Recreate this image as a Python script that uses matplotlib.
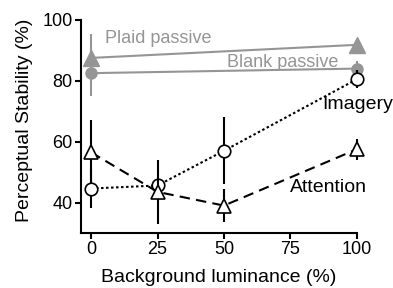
import numpy as np
import matplotlib
matplotlib.use("Agg")
import matplotlib.pyplot as plt

plt.rcParams['font.family'] = ['Liberation Sans', 'DejaVu Sans']

lum = [0, 25, 50, 100]
lum_passive = [0, 100]

plaid = [87.5, 91.8]
plaid_err = [8, 0]
blank = [82.5, 84]
blank_err = [7.5, 2.5]
imagery = [44.6, 45.6, 57, 80.5]
imagery_err = [6.5, 0, 11, 3]
attention = [56.5, 43.5, 39, 57.5]
attention_err = [10.5, 10.5, 5.5, 3.5]

gray = '#959595'

fig = plt.figure(figsize=(3.93, 2.88), dpi=100)
ax = fig.add_axes([0.206, 0.191, 0.702, 0.74])

ax.errorbar(lum_passive, plaid, yerr=plaid_err, color=gray, marker='^', ms=11,
            lw=1.5, elinewidth=1.5, capsize=0, clip_on=False, zorder=3)
ax.errorbar(lum_passive, blank, yerr=blank_err, color=gray, marker='o', ms=8,
            lw=1.5, elinewidth=1.5, capsize=0, clip_on=False, zorder=3)
ax.errorbar(lum, imagery, yerr=imagery_err, color='black', marker='o', ms=9,
            mfc='white', mec='black', mew=1.2, ls=(0, (1.2, 1.2)), lw=1.5,
            elinewidth=1.5, capsize=0, clip_on=False, zorder=4)
ax.errorbar(lum, attention, yerr=attention_err, color='black', marker='^', ms=10,
            mfc='white', mec='black', mew=1.2, ls=(0, (5, 3)), lw=1.5,
            elinewidth=1.5, capsize=0, clip_on=False, zorder=5)

ax.text(5.3, 93.8, 'Plaid passive', color=gray, fontsize=13, va='center')
ax.text(51, 85.9, 'Blank passive', color=gray, fontsize=13, va='center')
ax.text(86.8, 72.1, 'Imagery', color='black', fontsize=14, va='center')
ax.text(74.8, 45.1, 'Attention', color='black', fontsize=14, va='center')

ax.set_xlim(-3.8, 100)
ax.set_ylim(30, 100)
ax.set_xticks([0, 25, 50, 75, 100])
ax.set_yticks([40, 60, 80, 100])
ax.spines['top'].set_visible(False)
ax.spines['right'].set_visible(False)
ax.spines['left'].set_linewidth(1.5)
ax.spines['bottom'].set_linewidth(1.5)
ax.tick_params(labelsize=13, width=1.5, length=4, pad=2)
ax.set_xlabel('Background luminance (%)', fontsize=14, va='top')
ax.set_ylabel('Perceptual Stability (%)', fontsize=14)
ax.xaxis.set_label_coords(0.5, -0.17)
ax.yaxis.set_label_coords(-0.175, 0.53)

fig.savefig('out.png', dpi=100)
